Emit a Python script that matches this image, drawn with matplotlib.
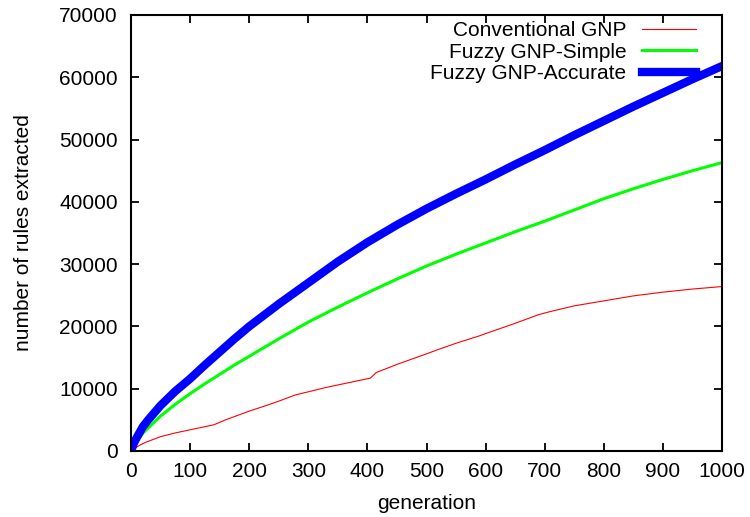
import numpy as np
import matplotlib
matplotlib.use("Agg")
import matplotlib.pyplot as plt

plt.rcParams['font.family'] = ['Liberation Sans', 'DejaVu Sans']

# conventional GNP (own sampling, it has a few kinks)
gen_conv = [0, 5, 10, 15, 25, 50, 75, 100, 125, 140, 160, 200, 232, 250, 278,
            300, 330, 360, 400, 405, 415, 450, 500, 523, 550, 590, 600, 650,
            690, 710, 750, 800, 850, 900, 950, 1000]
conventional = [0, 350, 650, 950, 1400, 2300, 2900, 3400, 3900, 4200, 5000,
                6400, 7400, 8000, 9000, 9500, 10200, 10800, 11600, 11700,
                12600, 13900, 15600, 16400, 17300, 18500, 18850, 20500, 21900,
                22400, 23300, 24100, 24900, 25500, 26000, 26400]

# fuzzy GNP variants
generation = [0, 5, 10, 20, 30, 50, 75, 100, 125, 150, 175, 200, 250, 300, 350,
              400, 450, 500, 550, 600, 650, 700, 750, 800, 850, 900, 950, 1000]
fuzzy_simple = [0, 900, 1600, 2850, 3800, 5600, 7500, 9200, 10800, 12300, 13800,
                15200, 18000, 20700, 23100, 25400, 27600, 29700, 31600, 33400,
                35200, 36900, 38700, 40500, 42100, 43600, 45000, 46300]
fuzzy_accurate = [0, 1300, 2200, 3900, 5100, 7300, 9600, 11600, 13800, 15900,
                  18000, 20000, 23600, 27000, 30400, 33500, 36300, 38900, 41300,
                  43600, 46000, 48300, 50700, 53000, 55300, 57500, 59700, 61800]

fig = plt.figure(figsize=(7.5, 5.17), dpi=100)
ax = fig.add_axes([0.1747, 0.1277, 0.788, 0.8433])

ax.plot(gen_conv, conventional, color='#ff0000', lw=0.8, label='Conventional GNP')
ax.plot(generation, fuzzy_simple, color='#00ff00', lw=2.2, label='Fuzzy GNP-Simple')
ax.plot(generation, fuzzy_accurate, color='#0000ff', lw=6, label='Fuzzy GNP-Accurate')

ax.set_xlim(0, 1000)
ax.set_ylim(0, 70000)
ax.set_xticks(np.arange(0, 1001, 100))
ax.set_yticks(np.arange(0, 70001, 10000))
ax.tick_params(direction='in', top=True, right=True, length=6, width=1.3,
               labelsize=15)
ax.tick_params(axis='x', pad=8)
ax.tick_params(axis='y', pad=9.5)
for s in ax.spines.values():
    s.set_linewidth(1.5)

ax.set_xlabel('generation', fontsize=15, labelpad=9)
ax.set_ylabel('number of rules extracted', fontsize=15, labelpad=19)

leg = ax.legend(loc='upper right', bbox_to_anchor=(0.956, 0.986), frameon=False,
                fontsize=15, markerfirst=False, handlelength=2.6,
                handletextpad=0.75, labelspacing=0.12, borderpad=0,
                borderaxespad=0)
for t in leg.get_texts():
    t.set_ha('right')
leg._legend_box.align = 'right'

fig.savefig('out.png', dpi=100)
